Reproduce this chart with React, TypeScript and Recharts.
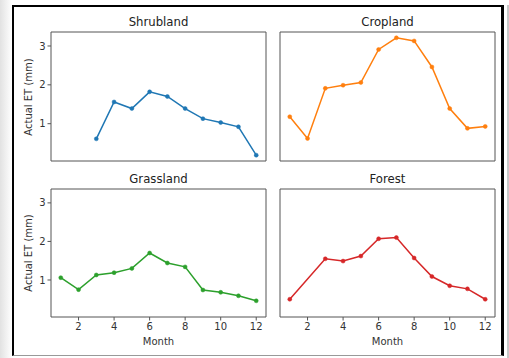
import React from "react";
import { LineChart, Line, XAxis, YAxis, ReferenceArea } from "recharts";

const months = [1, 2, 3, 4, 5, 6, 7, 8, 9, 10, 11, 12];
const shrubland = [null, null, 0.61, 1.56, 1.39, 1.82, 1.7, 1.39, 1.13, 1.03, 0.92, 0.19];
const cropland = [1.18, 0.62, 1.91, 1.99, 2.06, 2.91, 3.21, 3.13, 2.46, 1.39, 0.88, 0.93];
const grassland = [1.06, 0.75, 1.13, 1.19, 1.3, 1.7, 1.44, 1.34, 0.74, 0.68, 0.59, 0.46];
const forest = [0.5, null, 1.55, 1.49, 1.62, 2.07, 2.1, 1.57, 1.09, 0.85, 0.77, 0.5];
const xTicks = [2, 4, 6, 8, 10, 12];
const yTicks = [1, 2, 3];
const xDomain: [number, number] = [0.45, 12.55];
const yDomain: [number, number] = [0.04, 3.36];

const FONT = "'DejaVu Sans', sans-serif";
const SPINE = "#555";
const TEXT = "#333";

type PanelProps = {
  title: string;
  values: (number | null)[];
  color: string;
  px: number;
  py: number;
  pw: number;
  ph: number;
  showX: boolean;
  showY: boolean;
};

function Panel({ title, values, color, px, py, pw, ph, showX, showY }: PanelProps) {
  const data = months.map((m, i) => ({ month: m, v: values[i] }));
  const left = px - 40;
  const top = py - 10;
  const width = pw + 50;
  const height = ph + 40;
  const tickStyle = { fontSize: 10, fontFamily: FONT, fill: TEXT };
  return (
    <>
      <div
        style={{
          position: "absolute",
          left: px,
          width: pw,
          top: py - 18,
          height: 16,
          lineHeight: "16px",
          textAlign: "center",
          fontFamily: FONT,
          fontSize: 11.7,
          color: "#222",
        }}
      >
        {title}
      </div>
      <div style={{ position: "absolute", left, top, width, height }}>
        <LineChart
          width={width}
          height={height}
          data={data}
          margin={{ top: 10, right: 10, bottom: 10, left: 10 }}
        >
          <XAxis
            dataKey="month"
            type="number"
            domain={xDomain}
            ticks={xTicks}
            allowDataOverflow
            height={20}
            axisLine={false}
            tickSize={3.5}
            tickMargin={2}
            tickLine={{ stroke: SPINE }}
            tick={showX ? tickStyle : false}
          />
          <YAxis
            type="number"
            domain={yDomain}
            ticks={yTicks}
            allowDataOverflow
            width={30}
            axisLine={false}
            tickSize={3.5}
            tickMargin={2}
            tickLine={{ stroke: SPINE }}
            tick={showY ? tickStyle : false}
          />
          <ReferenceArea
            x1={xDomain[0]}
            x2={xDomain[1]}
            y1={yDomain[0]}
            y2={yDomain[1]}
            fill="none"
            fillOpacity={0}
            stroke={SPINE}
            strokeWidth={1}
          />
          <Line
            dataKey="v"
            stroke={color}
            strokeWidth={1.5}
            dot={{ r: 2, fill: color, stroke: color, strokeWidth: 0.5 }}
            connectNulls
            isAnimationActive={false}
          />
        </LineChart>
      </div>
      {showY && (
        <div
          style={{
            position: "absolute",
            left: 29 - 60,
            top: py + ph / 2 - 7,
            width: 120,
            height: 14,
            lineHeight: "14px",
            textAlign: "center",
            fontFamily: FONT,
            fontSize: 10,
            color: TEXT,
            transform: "rotate(-90deg)",
          }}
        >
          Actual ET (mm)
        </div>
      )}
      {showX && (
        <div
          style={{
            position: "absolute",
            left: px,
            width: pw,
            top: py + ph + 18,
            height: 14,
            lineHeight: "14px",
            textAlign: "center",
            fontFamily: FONT,
            fontSize: 10,
            color: TEXT,
          }}
        >
          Month
        </div>
      )}
    </>
  );
}

export default function App() {
  return (
    <div
      style={{
        position: "absolute",
        left: 0,
        top: 0,
        width: 509,
        height: 358,
        background: "#fff",
        overflow: "hidden",
      }}
    >
      <div
        style={{
          position: "absolute",
          left: 0,
          top: 0,
          width: 12,
          height: 358,
          background: "linear-gradient(to right, #e2e2e2, #ffffff)",
        }}
      />
      <div
        style={{
          position: "absolute",
          left: 507,
          top: 5,
          width: 2,
          height: 353,
          background: "#c8c8c8",
        }}
      />
      <div
        style={{
          position: "absolute",
          left: 12,
          top: 5,
          width: 492,
          height: 351,
          borderLeft: "2px solid #000",
          borderTop: "2px solid #000",
          borderRight: "3px solid #000",
          borderBottom: "1px solid #999",
          boxSizing: "border-box",
        }}
      />
      <Panel title="Shrubland" values={shrubland} color="#1f77b4" px={51} py={32} pw={215} ph={129} showX={false} showY={true} />
      <Panel title="Cropland" values={cropland} color="#ff7f0e" px={280} py={32} pw={215} ph={129} showX={false} showY={false} />
      <Panel title="Grassland" values={grassland} color="#2ca02c" px={51} py={189} pw={215} ph={128} showX={true} showY={true} />
      <Panel title="Forest" values={forest} color="#d62728" px={280} py={189} pw={215} ph={128} showX={true} showY={false} />
    </div>
  );
}
